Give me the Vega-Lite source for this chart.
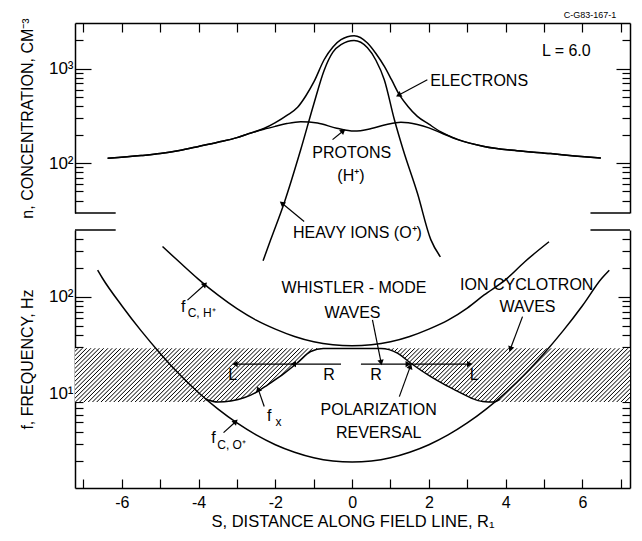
{
"$schema": "https://vega.github.io/schema/vega-lite/v6.json",
"padding": {"left": 19, "top": 10, "right": 5, "bottom": 5},
"bounds": "flush",
"spacing": 17,
"config": {
 "view": {"stroke": null},
 "font": "Liberation Sans",
 "axis": {"domainColor": "black", "domainWidth": 1.5, "tickColor": "black", "tickWidth": 1.2, "labelColor": "black", "titleColor": "black", "labelFont": "Liberation Sans", "titleFont": "Liberation Sans", "labelFontSize": 16, "titleFontSize": 16, "titleFontWeight": "normal", "grid": false, "labelOverlap": false, "labelFlush": false},
 "text": {"font": "Liberation Sans", "color": "black"}
},
"datasets": {
 "top": [
  {"g":"e","s":-6.37,"n":112},{"g":"e","s":-5.5,"n":120},{"g":"e","s":-5,"n":126},{"g":"e","s":-4.5,"n":136},{"g":"e","s":-4,"n":150},{"g":"e","s":-3.5,"n":166},{"g":"e","s":-3,"n":186},{"g":"e","s":-2.7,"n":205},{"g":"e","s":-2.3,"n":232},{"g":"e","s":-2,"n":268},{"g":"e","s":-1.7,"n":320},{"g":"e","s":-1.42,"n":390},{"g":"e","s":-1.2,"n":520},{"g":"e","s":-0.99,"n":733},{"g":"e","s":-0.73,"n":1245},{"g":"e","s":-0.5,"n":1700},{"g":"e","s":-0.29,"n":2030},{"g":"e","s":0.05,"n":2240},{"g":"e","s":0.4,"n":1875},{"g":"e","s":0.62,"n":1450},{"g":"e","s":0.84,"n":1058},{"g":"e","s":1.03,"n":760},{"g":"e","s":1.23,"n":530},{"g":"e","s":1.45,"n":400},{"g":"e","s":1.7,"n":312},{"g":"e","s":2,"n":258},{"g":"e","s":2.3,"n":215},{"g":"e","s":2.75,"n":178},{"g":"e","s":3.44,"n":150},{"g":"e","s":4.3,"n":135},{"g":"e","s":5.17,"n":126},{"g":"e","s":5.8,"n":119},{"g":"e","s":6.48,"n":113},
  {"g":"p","s":-6.37,"n":112},{"g":"p","s":-5.5,"n":120},{"g":"p","s":-5,"n":126},{"g":"p","s":-4.5,"n":136},{"g":"p","s":-4,"n":150},{"g":"p","s":-3.5,"n":166},{"g":"p","s":-3,"n":186},{"g":"p","s":-2.7,"n":204},{"g":"p","s":-2.3,"n":228},{"g":"p","s":-2,"n":245},{"g":"p","s":-1.7,"n":262},{"g":"p","s":-1.34,"n":274},{"g":"p","s":-0.9,"n":265},{"g":"p","s":-0.4,"n":234},{"g":"p","s":0.05,"n":218},{"g":"p","s":0.5,"n":232},{"g":"p","s":0.9,"n":256},{"g":"p","s":1.27,"n":270},{"g":"p","s":1.7,"n":256},{"g":"p","s":2,"n":236},{"g":"p","s":2.3,"n":210},{"g":"p","s":2.75,"n":177},{"g":"p","s":3.44,"n":150},{"g":"p","s":4.3,"n":135},{"g":"p","s":5.17,"n":126},{"g":"p","s":5.8,"n":119},{"g":"p","s":6.48,"n":113},
  {"g":"o","s":-2.32,"n":9.2},{"g":"o","s":-2.12,"n":15.4},{"g":"o","s":-1.77,"n":37.7},{"g":"o","s":-1.34,"n":138},{"g":"o","s":-1.0,"n":420},{"g":"o","s":-0.73,"n":960},{"g":"o","s":-0.5,"n":1500},{"g":"o","s":-0.29,"n":1800},{"g":"o","s":0.05,"n":1990},{"g":"o","s":0.4,"n":1670},{"g":"o","s":0.62,"n":1230},{"g":"o","s":0.84,"n":760},{"g":"o","s":1.1,"n":289},{"g":"o","s":1.33,"n":138},{"g":"o","s":1.7,"n":48},{"g":"o","s":2.05,"n":15.4},{"g":"o","s":2.3,"n":10.1}
 ],
 "bot": [
  {"g":"h","s":-4.94,"f":330},{"g":"h","s":-4.5,"f":228},{"g":"h","s":-4,"f":151},{"g":"h","s":-3.5,"f":104},{"g":"h","s":-3,"f":75},{"g":"h","s":-2.5,"f":57},{"g":"h","s":-2,"f":46},{"g":"h","s":-1.5,"f":38.6},{"g":"h","s":-1,"f":34},{"g":"h","s":-0.5,"f":31.7},{"g":"h","s":0,"f":31},{"g":"h","s":0.5,"f":31.7},{"g":"h","s":1,"f":34},{"g":"h","s":1.5,"f":38.6},{"g":"h","s":2,"f":46},{"g":"h","s":2.5,"f":57},{"g":"h","s":3,"f":76},{"g":"h","s":3.44,"f":104},{"g":"h","s":4,"f":150},{"g":"h","s":4.5,"f":230},{"g":"h","s":5.13,"f":370},
  {"g":"c","s":-6.63,"f":188},{"g":"c","s":-6.5,"f":154},{"g":"c","s":-6,"f":80.5},{"g":"c","s":-5.5,"f":44.4},{"g":"c","s":-5,"f":25.8},{"g":"c","s":-4.5,"f":15.7},{"g":"c","s":-4,"f":10.1},{"g":"c","s":-3.5,"f":6.87},{"g":"c","s":-3,"f":4.91},{"g":"c","s":-2.5,"f":3.69},{"g":"c","s":-2,"f":2.92},{"g":"c","s":-1.5,"f":2.44},{"g":"c","s":-1,"f":2.14},{"g":"c","s":-0.5,"f":1.98},{"g":"c","s":0,"f":1.93},{"g":"c","s":0.5,"f":1.98},{"g":"c","s":1,"f":2.14},{"g":"c","s":1.5,"f":2.44},{"g":"c","s":2,"f":2.92},{"g":"c","s":2.5,"f":3.69},{"g":"c","s":3,"f":4.91},{"g":"c","s":3.5,"f":6.87},{"g":"c","s":4,"f":10.1},{"g":"c","s":4.5,"f":15.7},{"g":"c","s":5,"f":25.8},{"g":"c","s":5.5,"f":44.4},{"g":"c","s":6,"f":80.5},{"g":"c","s":6.5,"f":154},{"g":"c","s":6.7,"f":188},
  {"g":"x","s":-3.8,"f":8.6},{"g":"x","s":-3.5,"f":8.1},{"g":"x","s":-3.16,"f":8.3},{"g":"x","s":-2.8,"f":9.0},{"g":"x","s":-2.5,"f":10.2},{"g":"x","s":-2.2,"f":12.2},{"g":"x","s":-1.77,"f":16},{"g":"x","s":-1.42,"f":20.7},{"g":"x","s":-1.08,"f":27},{"g":"x","s":-0.75,"f":29},{"g":"x","s":0,"f":29},{"g":"x","s":0.75,"f":29},{"g":"x","s":1.18,"f":26},{"g":"x","s":1.53,"f":20.4},{"g":"x","s":2.05,"f":14.8},{"g":"x","s":2.4,"f":12.3},{"g":"x","s":2.74,"f":10.5},{"g":"x","s":3.1,"f":8.9},{"g":"x","s":3.4,"f":8.2},{"g":"x","s":3.7,"f":8.1},{"g":"x","s":3.85,"f":8.6}
 ]
},
"vconcat": [
 {
  "width": 555, "height": 190,
  "encoding": {
   "x": {"field": "s", "type": "quantitative", "scale": {"domain": [-7.22, 7.24], "nice": false, "zero": false}, "axis": {"orient": "top", "values": [-7,-6,-5,-4,-3,-2,-1,0,1,2,3,4,5,6,7], "labels": false, "tickSize": -9, "title": null}}
  },
  "layer": [
   {
    "data": {"name": "top"},
    "mark": {"type": "line", "color": "black", "strokeWidth": 1.5, "interpolate": "monotone"},
    "encoding": {
     "y": {"field": "n", "type": "quantitative", "scale": {"type": "log", "domain": [29.5, 3055], "nice": false}, "axis": {"orient": "left", "values": [40,50,60,70,80,90,100,200,300,400,500,600,700,800,900,1000,2000], "labelExpr": "datum.value == 100 ? '10²' : datum.value == 1000 ? '10³' : ''", "labelFontSize": 17, "tickSize": {"condition": {"test": "datum.value == 100 || datum.value == 1000", "value": -16}, "value": -8}, "labelPadding": 18, "title": "n, CONCENTRATION, CM⁻³", "titlePadding": 13}},
     "detail": {"field": "g"}
    }
   },
   {
    "data": {"values": [{"s": -7.22, "s2": -6.16, "n": 29.5}, {"s": 6.21, "s2": 7.24, "n": 29.5}]},
    "mark": {"type": "rule", "color": "black", "strokeWidth": 1.5},
    "encoding": {
     "x2": {"field": "s2"},
     "y": {"field": "n", "type": "quantitative", "scale": {"type": "log", "domain": [29.5, 3055], "nice": false}, "axis": {"orient": "right", "values": [40,50,60,70,80,90,100,200,300,400,500,600,700,800,900,1000,2000], "labels": false, "tickSize": {"condition": {"test": "datum.value == 100 || datum.value == 1000", "value": -14}, "value": -8}, "title": null}}
    }
   },
   {
    "data": {"values": [{"s": 1.96, "n": 764, "s2": 1.23, "n2": 530}, {"s": -0.51, "n": 177, "s2": -0.25, "n2": 216}, {"s": -1.25, "n": 24, "s2": -1.81, "n2": 37}]},
    "mark": {"type": "rule", "color": "black", "strokeWidth": 1.2},
    "encoding": {
     "y": {"field": "n", "type": "quantitative", "scale": {"type": "log", "domain": [29.5, 3055], "nice": false}, "axis": null},
     "x2": {"field": "s2"}, "y2": {"field": "n2"}
    }
   },
   {
    "data": {"values": [{"s": 1.23, "n": 530, "a": 242}, {"s": -0.25, "n": 216, "a": 50}, {"s": -1.81, "n": 37, "a": 309}]},
    "mark": {"type": "point", "shape": "triangle", "filled": true, "color": "black", "size": 40, "opacity": 1},
    "encoding": {
     "y": {"field": "n", "type": "quantitative", "scale": {"type": "log", "domain": [29.5, 3055], "nice": false}, "axis": null},
     "angle": {"field": "a", "type": "quantitative", "scale": null}
    }
   },
   {
    "data": {"values": [{"s": 5.58, "n": 1524, "t": "L = 6.0"}, {"s": 3.31, "n": 733, "t": "ELECTRONS"}, {"s": -0.01, "n": 128, "t": "PROTONS"}, {"s": -0.03, "n": 72, "t": "(H⁺)"}, {"s": 0.14, "n": 18.1, "t": "HEAVY IONS (O⁺)"}]},
    "mark": {"type": "text", "fontSize": 16, "baseline": "middle", "align": "center"},
    "encoding": {
     "y": {"field": "n", "type": "quantitative", "scale": {"type": "log", "domain": [29.5, 3055], "nice": false}, "axis": null},
     "text": {"field": "t"}
    }
   },
   {
    "data": {"values": [{"s": 6.2, "n": 3741, "t": "C-G83-167-1"}]},
    "mark": {"type": "text", "fontSize": 9, "baseline": "middle", "align": "center"},
    "encoding": {
     "y": {"field": "n", "type": "quantitative", "scale": {"type": "log", "domain": [29.5, 3055], "nice": false}, "axis": null},
     "text": {"field": "t"}
    }
   }
  ],
  "resolve": {"axis": {"y": "independent"}}
 },
 {
  "width": 555, "height": 258,
  "encoding": {
   "x": {"field": "s", "type": "quantitative", "scale": {"domain": [-7.22, 7.24], "nice": false, "zero": false}, "axis": {"orient": "bottom", "values": [-7,-6,-5,-4,-3,-2,-1,0,1,2,3,4,5,6,7], "labelExpr": "datum.value % 2 == 0 ? '' + datum.value : ''", "tickSize": -9, "labelPadding": 15, "title": "S, DISTANCE ALONG FIELD LINE, R₁", "titleFontSize": 16.5, "titlePadding": 3}}
  },
  "layer": [
   {
    "data": {"values": [{"s": -7.22, "s2": 7.24, "f": 8.1, "f2": 29.2}]},
    "mark": {"type": "rect", "stroke": null, "fill": {"gradient": "linear", "x1": 0, "y1": 0, "x2": 1.0868, "y2": 0.10545, "stops": [
{"offset":0.0035,"color":"#fff"},{"offset":0.0052,"color":"#000"},{"offset":0.0069,"color":"#fff"},
{"offset":0.0105,"color":"#fff"},{"offset":0.0122,"color":"#000"},{"offset":0.0139,"color":"#fff"},
{"offset":0.0175,"color":"#fff"},{"offset":0.0192,"color":"#000"},{"offset":0.0209,"color":"#fff"},
{"offset":0.0245,"color":"#fff"},{"offset":0.0262,"color":"#000"},{"offset":0.0279,"color":"#fff"},
{"offset":0.0315,"color":"#fff"},{"offset":0.0332,"color":"#000"},{"offset":0.0349,"color":"#fff"},
{"offset":0.0385,"color":"#fff"},{"offset":0.0402,"color":"#000"},{"offset":0.0419,"color":"#fff"},
{"offset":0.0455,"color":"#fff"},{"offset":0.0472,"color":"#000"},{"offset":0.0489,"color":"#fff"},
{"offset":0.0525,"color":"#fff"},{"offset":0.0542,"color":"#000"},{"offset":0.0559,"color":"#fff"},
{"offset":0.0595,"color":"#fff"},{"offset":0.0612,"color":"#000"},{"offset":0.0629,"color":"#fff"},
{"offset":0.0665,"color":"#fff"},{"offset":0.0682,"color":"#000"},{"offset":0.0699,"color":"#fff"},
{"offset":0.0735,"color":"#fff"},{"offset":0.0752,"color":"#000"},{"offset":0.0769,"color":"#fff"},
{"offset":0.0805,"color":"#fff"},{"offset":0.0822,"color":"#000"},{"offset":0.0839,"color":"#fff"},
{"offset":0.0875,"color":"#fff"},{"offset":0.0892,"color":"#000"},{"offset":0.0909,"color":"#fff"},
{"offset":0.0945,"color":"#fff"},{"offset":0.0962,"color":"#000"},{"offset":0.0979,"color":"#fff"},
{"offset":0.1015,"color":"#fff"},{"offset":0.1032,"color":"#000"},{"offset":0.1049,"color":"#fff"},
{"offset":0.1085,"color":"#fff"},{"offset":0.1102,"color":"#000"},{"offset":0.1119,"color":"#fff"},
{"offset":0.1155,"color":"#fff"},{"offset":0.1172,"color":"#000"},{"offset":0.1189,"color":"#fff"},
{"offset":0.1225,"color":"#fff"},{"offset":0.1242,"color":"#000"},{"offset":0.1259,"color":"#fff"},
{"offset":0.1295,"color":"#fff"},{"offset":0.1312,"color":"#000"},{"offset":0.1329,"color":"#fff"},
{"offset":0.1365,"color":"#fff"},{"offset":0.1382,"color":"#000"},{"offset":0.1399,"color":"#fff"},
{"offset":0.1435,"color":"#fff"},{"offset":0.1452,"color":"#000"},{"offset":0.1469,"color":"#fff"},
{"offset":0.1505,"color":"#fff"},{"offset":0.1522,"color":"#000"},{"offset":0.1539,"color":"#fff"},
{"offset":0.1575,"color":"#fff"},{"offset":0.1592,"color":"#000"},{"offset":0.1609,"color":"#fff"},
{"offset":0.1645,"color":"#fff"},{"offset":0.1662,"color":"#000"},{"offset":0.1679,"color":"#fff"},
{"offset":0.1715,"color":"#fff"},{"offset":0.1732,"color":"#000"},{"offset":0.1749,"color":"#fff"},
{"offset":0.1785,"color":"#fff"},{"offset":0.1802,"color":"#000"},{"offset":0.1819,"color":"#fff"},
{"offset":0.1855,"color":"#fff"},{"offset":0.1872,"color":"#000"},{"offset":0.1889,"color":"#fff"},
{"offset":0.1925,"color":"#fff"},{"offset":0.1942,"color":"#000"},{"offset":0.1959,"color":"#fff"},
{"offset":0.1995,"color":"#fff"},{"offset":0.2012,"color":"#000"},{"offset":0.2029,"color":"#fff"},
{"offset":0.2065,"color":"#fff"},{"offset":0.2082,"color":"#000"},{"offset":0.2099,"color":"#fff"},
{"offset":0.2135,"color":"#fff"},{"offset":0.2152,"color":"#000"},{"offset":0.2169,"color":"#fff"},
{"offset":0.2205,"color":"#fff"},{"offset":0.2222,"color":"#000"},{"offset":0.2239,"color":"#fff"},
{"offset":0.2275,"color":"#fff"},{"offset":0.2292,"color":"#000"},{"offset":0.2309,"color":"#fff"},
{"offset":0.2345,"color":"#fff"},{"offset":0.2362,"color":"#000"},{"offset":0.2379,"color":"#fff"},
{"offset":0.2415,"color":"#fff"},{"offset":0.2432,"color":"#000"},{"offset":0.2449,"color":"#fff"},
{"offset":0.2485,"color":"#fff"},{"offset":0.2502,"color":"#000"},{"offset":0.2519,"color":"#fff"},
{"offset":0.2555,"color":"#fff"},{"offset":0.2572,"color":"#000"},{"offset":0.2589,"color":"#fff"},
{"offset":0.2625,"color":"#fff"},{"offset":0.2642,"color":"#000"},{"offset":0.2659,"color":"#fff"},
{"offset":0.2695,"color":"#fff"},{"offset":0.2712,"color":"#000"},{"offset":0.2729,"color":"#fff"},
{"offset":0.2765,"color":"#fff"},{"offset":0.2782,"color":"#000"},{"offset":0.2799,"color":"#fff"},
{"offset":0.2835,"color":"#fff"},{"offset":0.2852,"color":"#000"},{"offset":0.2869,"color":"#fff"},
{"offset":0.2905,"color":"#fff"},{"offset":0.2922,"color":"#000"},{"offset":0.2939,"color":"#fff"},
{"offset":0.2975,"color":"#fff"},{"offset":0.2992,"color":"#000"},{"offset":0.3009,"color":"#fff"},
{"offset":0.3045,"color":"#fff"},{"offset":0.3062,"color":"#000"},{"offset":0.3079,"color":"#fff"},
{"offset":0.3115,"color":"#fff"},{"offset":0.3132,"color":"#000"},{"offset":0.3149,"color":"#fff"},
{"offset":0.3185,"color":"#fff"},{"offset":0.3202,"color":"#000"},{"offset":0.3219,"color":"#fff"},
{"offset":0.3255,"color":"#fff"},{"offset":0.3272,"color":"#000"},{"offset":0.3289,"color":"#fff"},
{"offset":0.3325,"color":"#fff"},{"offset":0.3342,"color":"#000"},{"offset":0.3359,"color":"#fff"},
{"offset":0.3395,"color":"#fff"},{"offset":0.3412,"color":"#000"},{"offset":0.3429,"color":"#fff"},
{"offset":0.3465,"color":"#fff"},{"offset":0.3482,"color":"#000"},{"offset":0.3499,"color":"#fff"},
{"offset":0.3535,"color":"#fff"},{"offset":0.3552,"color":"#000"},{"offset":0.3569,"color":"#fff"},
{"offset":0.3605,"color":"#fff"},{"offset":0.3622,"color":"#000"},{"offset":0.3639,"color":"#fff"},
{"offset":0.3675,"color":"#fff"},{"offset":0.3692,"color":"#000"},{"offset":0.3709,"color":"#fff"},
{"offset":0.3745,"color":"#fff"},{"offset":0.3762,"color":"#000"},{"offset":0.3779,"color":"#fff"},
{"offset":0.3815,"color":"#fff"},{"offset":0.3832,"color":"#000"},{"offset":0.3849,"color":"#fff"},
{"offset":0.3885,"color":"#fff"},{"offset":0.3902,"color":"#000"},{"offset":0.3919,"color":"#fff"},
{"offset":0.3955,"color":"#fff"},{"offset":0.3972,"color":"#000"},{"offset":0.3989,"color":"#fff"},
{"offset":0.4025,"color":"#fff"},{"offset":0.4042,"color":"#000"},{"offset":0.4059,"color":"#fff"},
{"offset":0.4095,"color":"#fff"},{"offset":0.4112,"color":"#000"},{"offset":0.4129,"color":"#fff"},
{"offset":0.4165,"color":"#fff"},{"offset":0.4182,"color":"#000"},{"offset":0.4199,"color":"#fff"},
{"offset":0.4235,"color":"#fff"},{"offset":0.4252,"color":"#000"},{"offset":0.4269,"color":"#fff"},
{"offset":0.4305,"color":"#fff"},{"offset":0.4322,"color":"#000"},{"offset":0.4339,"color":"#fff"},
{"offset":0.4375,"color":"#fff"},{"offset":0.4392,"color":"#000"},{"offset":0.4409,"color":"#fff"},
{"offset":0.4445,"color":"#fff"},{"offset":0.4462,"color":"#000"},{"offset":0.4479,"color":"#fff"},
{"offset":0.4515,"color":"#fff"},{"offset":0.4532,"color":"#000"},{"offset":0.4549,"color":"#fff"},
{"offset":0.4585,"color":"#fff"},{"offset":0.4602,"color":"#000"},{"offset":0.4619,"color":"#fff"},
{"offset":0.4655,"color":"#fff"},{"offset":0.4672,"color":"#000"},{"offset":0.4689,"color":"#fff"},
{"offset":0.4725,"color":"#fff"},{"offset":0.4742,"color":"#000"},{"offset":0.4759,"color":"#fff"},
{"offset":0.4795,"color":"#fff"},{"offset":0.4812,"color":"#000"},{"offset":0.4829,"color":"#fff"},
{"offset":0.4865,"color":"#fff"},{"offset":0.4882,"color":"#000"},{"offset":0.4899,"color":"#fff"},
{"offset":0.4935,"color":"#fff"},{"offset":0.4952,"color":"#000"},{"offset":0.4969,"color":"#fff"},
{"offset":0.5005,"color":"#fff"},{"offset":0.5022,"color":"#000"},{"offset":0.5039,"color":"#fff"},
{"offset":0.5075,"color":"#fff"},{"offset":0.5092,"color":"#000"},{"offset":0.5109,"color":"#fff"},
{"offset":0.5145,"color":"#fff"},{"offset":0.5162,"color":"#000"},{"offset":0.5179,"color":"#fff"},
{"offset":0.5215,"color":"#fff"},{"offset":0.5232,"color":"#000"},{"offset":0.5249,"color":"#fff"},
{"offset":0.5285,"color":"#fff"},{"offset":0.5302,"color":"#000"},{"offset":0.5319,"color":"#fff"},
{"offset":0.5355,"color":"#fff"},{"offset":0.5372,"color":"#000"},{"offset":0.5389,"color":"#fff"},
{"offset":0.5425,"color":"#fff"},{"offset":0.5442,"color":"#000"},{"offset":0.5459,"color":"#fff"},
{"offset":0.5495,"color":"#fff"},{"offset":0.5512,"color":"#000"},{"offset":0.5529,"color":"#fff"},
{"offset":0.5565,"color":"#fff"},{"offset":0.5582,"color":"#000"},{"offset":0.5599,"color":"#fff"},
{"offset":0.5635,"color":"#fff"},{"offset":0.5652,"color":"#000"},{"offset":0.5669,"color":"#fff"},
{"offset":0.5705,"color":"#fff"},{"offset":0.5722,"color":"#000"},{"offset":0.5739,"color":"#fff"},
{"offset":0.5775,"color":"#fff"},{"offset":0.5792,"color":"#000"},{"offset":0.5809,"color":"#fff"},
{"offset":0.5845,"color":"#fff"},{"offset":0.5862,"color":"#000"},{"offset":0.5879,"color":"#fff"},
{"offset":0.5915,"color":"#fff"},{"offset":0.5932,"color":"#000"},{"offset":0.5949,"color":"#fff"},
{"offset":0.5985,"color":"#fff"},{"offset":0.6002,"color":"#000"},{"offset":0.6019,"color":"#fff"},
{"offset":0.6055,"color":"#fff"},{"offset":0.6072,"color":"#000"},{"offset":0.6089,"color":"#fff"},
{"offset":0.6125,"color":"#fff"},{"offset":0.6142,"color":"#000"},{"offset":0.6159,"color":"#fff"},
{"offset":0.6195,"color":"#fff"},{"offset":0.6212,"color":"#000"},{"offset":0.6229,"color":"#fff"},
{"offset":0.6265,"color":"#fff"},{"offset":0.6282,"color":"#000"},{"offset":0.6299,"color":"#fff"},
{"offset":0.6335,"color":"#fff"},{"offset":0.6352,"color":"#000"},{"offset":0.6369,"color":"#fff"},
{"offset":0.6405,"color":"#fff"},{"offset":0.6422,"color":"#000"},{"offset":0.6439,"color":"#fff"},
{"offset":0.6475,"color":"#fff"},{"offset":0.6492,"color":"#000"},{"offset":0.6509,"color":"#fff"},
{"offset":0.6545,"color":"#fff"},{"offset":0.6562,"color":"#000"},{"offset":0.6579,"color":"#fff"},
{"offset":0.6615,"color":"#fff"},{"offset":0.6632,"color":"#000"},{"offset":0.6649,"color":"#fff"},
{"offset":0.6685,"color":"#fff"},{"offset":0.6702,"color":"#000"},{"offset":0.6719,"color":"#fff"},
{"offset":0.6755,"color":"#fff"},{"offset":0.6772,"color":"#000"},{"offset":0.6789,"color":"#fff"},
{"offset":0.6825,"color":"#fff"},{"offset":0.6842,"color":"#000"},{"offset":0.6859,"color":"#fff"},
{"offset":0.6895,"color":"#fff"},{"offset":0.6912,"color":"#000"},{"offset":0.6929,"color":"#fff"},
{"offset":0.6965,"color":"#fff"},{"offset":0.6982,"color":"#000"},{"offset":0.6999,"color":"#fff"},
{"offset":0.7035,"color":"#fff"},{"offset":0.7052,"color":"#000"},{"offset":0.7069,"color":"#fff"},
{"offset":0.7105,"color":"#fff"},{"offset":0.7122,"color":"#000"},{"offset":0.7139,"color":"#fff"},
{"offset":0.7175,"color":"#fff"},{"offset":0.7192,"color":"#000"},{"offset":0.7209,"color":"#fff"},
{"offset":0.7245,"color":"#fff"},{"offset":0.7262,"color":"#000"},{"offset":0.7279,"color":"#fff"},
{"offset":0.7315,"color":"#fff"},{"offset":0.7332,"color":"#000"},{"offset":0.7349,"color":"#fff"},
{"offset":0.7385,"color":"#fff"},{"offset":0.7402,"color":"#000"},{"offset":0.7419,"color":"#fff"},
{"offset":0.7455,"color":"#fff"},{"offset":0.7472,"color":"#000"},{"offset":0.7489,"color":"#fff"},
{"offset":0.7525,"color":"#fff"},{"offset":0.7542,"color":"#000"},{"offset":0.7559,"color":"#fff"},
{"offset":0.7595,"color":"#fff"},{"offset":0.7612,"color":"#000"},{"offset":0.7629,"color":"#fff"},
{"offset":0.7665,"color":"#fff"},{"offset":0.7682,"color":"#000"},{"offset":0.7699,"color":"#fff"},
{"offset":0.7735,"color":"#fff"},{"offset":0.7752,"color":"#000"},{"offset":0.7769,"color":"#fff"},
{"offset":0.7805,"color":"#fff"},{"offset":0.7822,"color":"#000"},{"offset":0.7839,"color":"#fff"},
{"offset":0.7875,"color":"#fff"},{"offset":0.7892,"color":"#000"},{"offset":0.7909,"color":"#fff"},
{"offset":0.7945,"color":"#fff"},{"offset":0.7962,"color":"#000"},{"offset":0.7979,"color":"#fff"},
{"offset":0.8015,"color":"#fff"},{"offset":0.8032,"color":"#000"},{"offset":0.8049,"color":"#fff"},
{"offset":0.8085,"color":"#fff"},{"offset":0.8102,"color":"#000"},{"offset":0.8119,"color":"#fff"},
{"offset":0.8155,"color":"#fff"},{"offset":0.8172,"color":"#000"},{"offset":0.8189,"color":"#fff"},
{"offset":0.8225,"color":"#fff"},{"offset":0.8242,"color":"#000"},{"offset":0.8259,"color":"#fff"},
{"offset":0.8295,"color":"#fff"},{"offset":0.8312,"color":"#000"},{"offset":0.8329,"color":"#fff"},
{"offset":0.8365,"color":"#fff"},{"offset":0.8382,"color":"#000"},{"offset":0.8399,"color":"#fff"},
{"offset":0.8435,"color":"#fff"},{"offset":0.8452,"color":"#000"},{"offset":0.8469,"color":"#fff"},
{"offset":0.8505,"color":"#fff"},{"offset":0.8522,"color":"#000"},{"offset":0.8539,"color":"#fff"},
{"offset":0.8575,"color":"#fff"},{"offset":0.8592,"color":"#000"},{"offset":0.8609,"color":"#fff"},
{"offset":0.8645,"color":"#fff"},{"offset":0.8662,"color":"#000"},{"offset":0.8679,"color":"#fff"},
{"offset":0.8715,"color":"#fff"},{"offset":0.8732,"color":"#000"},{"offset":0.8749,"color":"#fff"},
{"offset":0.8785,"color":"#fff"},{"offset":0.8802,"color":"#000"},{"offset":0.8819,"color":"#fff"},
{"offset":0.8855,"color":"#fff"},{"offset":0.8872,"color":"#000"},{"offset":0.8889,"color":"#fff"},
{"offset":0.8925,"color":"#fff"},{"offset":0.8942,"color":"#000"},{"offset":0.8959,"color":"#fff"},
{"offset":0.8995,"color":"#fff"},{"offset":0.9012,"color":"#000"},{"offset":0.9029,"color":"#fff"},
{"offset":0.9065,"color":"#fff"},{"offset":0.9082,"color":"#000"},{"offset":0.9099,"color":"#fff"},
{"offset":0.9135,"color":"#fff"},{"offset":0.9152,"color":"#000"},{"offset":0.9169,"color":"#fff"},
{"offset":0.9205,"color":"#fff"},{"offset":0.9222,"color":"#000"},{"offset":0.9239,"color":"#fff"},
{"offset":0.9275,"color":"#fff"},{"offset":0.9292,"color":"#000"},{"offset":0.9309,"color":"#fff"},
{"offset":0.9345,"color":"#fff"},{"offset":0.9362,"color":"#000"},{"offset":0.9379,"color":"#fff"},
{"offset":0.9415,"color":"#fff"},{"offset":0.9432,"color":"#000"},{"offset":0.9449,"color":"#fff"},
{"offset":0.9485,"color":"#fff"},{"offset":0.9502,"color":"#000"},{"offset":0.9519,"color":"#fff"},
{"offset":0.9555,"color":"#fff"},{"offset":0.9572,"color":"#000"},{"offset":0.9589,"color":"#fff"},
{"offset":0.9625,"color":"#fff"},{"offset":0.9642,"color":"#000"},{"offset":0.9659,"color":"#fff"},
{"offset":0.9695,"color":"#fff"},{"offset":0.9712,"color":"#000"},{"offset":0.9729,"color":"#fff"},
{"offset":0.9765,"color":"#fff"},{"offset":0.9782,"color":"#000"},{"offset":0.9799,"color":"#fff"},
{"offset":0.9835,"color":"#fff"},{"offset":0.9852,"color":"#000"},{"offset":0.9869,"color":"#fff"},
{"offset":0.9905,"color":"#fff"},{"offset":0.9922,"color":"#000"},{"offset":0.9939,"color":"#fff"}
    ]}},
    "encoding": {
     "y": {"field": "f", "type": "quantitative", "scale": {"type": "log", "domain": [1.04, 490], "nice": false}, "axis": null},
     "x2": {"field": "s2"}, "y2": {"field": "f2"}
    }
   },
   {
    "data": {"name": "bot"},
    "transform": [{"filter": "datum.g == 'x'"}],
    "mark": {"type": "area", "color": "white", "interpolate": "monotone"},
    "encoding": {
     "y": {"field": "f", "type": "quantitative", "scale": {"type": "log", "domain": [1.04, 490], "nice": false}, "axis": null},
     "y2": {"datum": 8.1}
    }
   },
   {
    "data": {"name": "bot"},
    "mark": {"type": "line", "color": "black", "strokeWidth": 1.5, "interpolate": "monotone"},
    "encoding": {
     "y": {"field": "f", "type": "quantitative", "scale": {"type": "log", "domain": [1.04, 490], "nice": false}, "axis": {"orient": "left", "values": [2,3,4,5,6,7,8,9,10,20,30,40,50,60,70,80,90,100,200,300,400], "labelExpr": "datum.value == 10 ? '10¹' : datum.value == 100 ? '10²' : ''", "labelFontSize": 17, "tickSize": {"condition": {"test": "datum.value == 10 || datum.value == 100", "value": -16}, "value": -8}, "labelPadding": 18, "title": "f, FREQUENCY, Hz", "titlePadding": 13}},
     "detail": {"field": "g"}
    }
   },
   {
    "data": {"values": [{"s": -7.22, "s2": -6.16, "f": 490}, {"s": 6.21, "s2": 7.24, "f": 490}]},
    "mark": {"type": "rule", "color": "black", "strokeWidth": 1.5},
    "encoding": {
     "x2": {"field": "s2"},
     "y": {"field": "f", "type": "quantitative", "scale": {"type": "log", "domain": [1.04, 490], "nice": false}, "axis": {"orient": "right", "values": [2,3,4,5,6,7,8,9,10,20,30,40,50,60,70,80,90,100,200,300,400], "labels": false, "tickSize": {"condition": {"test": "datum.value == 10 || datum.value == 100", "value": -12}, "value": -8}, "title": null}}
    }
   },
   {
    "data": {"values": [{"s": -4.29, "f": 92, "s2": -3.85, "f2": 132}, {"s": 0.53, "f": 57.3, "s2": 0.75, "f2": 21.2}, {"s": 4.44, "f": 62, "s2": 4.13, "f2": 29.2}, {"s": 1.23, "f": 9.2, "s2": 1.51, "f2": 18.6}, {"s": -2.29, "f": 7.27, "s2": -2.44, "f2": 10.8}, {"s": -3.35, "f": 3.9, "s2": -3.05, "f2": 5.0}, {"s": -0.29, "f": 20, "s2": -3.03, "f2": 20}, {"s": 0.23, "f": 20, "s2": 3.04, "f2": 20}]},
    "mark": {"type": "rule", "color": "black", "strokeWidth": 1.2},
    "encoding": {
     "y": {"field": "f", "type": "quantitative", "scale": {"type": "log", "domain": [1.04, 490], "nice": false}, "axis": null},
     "x2": {"field": "s2"}, "y2": {"field": "f2"}
    }
   },
   {
    "data": {"values": [{"s": -3.85, "f": 132, "a": 48}, {"s": 0.75, "f": 21.2, "a": 169}, {"s": 4.13, "f": 29.2, "a": 200}, {"s": 1.51, "f": 18.6, "a": 20}, {"s": -2.44, "f": 10.8, "a": 341}, {"s": -3.05, "f": 5.0, "a": 45}, {"s": -1.51, "f": 20, "a": 270}, {"s": -3.03, "f": 20, "a": 270}, {"s": 1.44, "f": 20, "a": 90}, {"s": 3.04, "f": 20, "a": 90}]},
    "mark": {"type": "point", "shape": "triangle", "filled": true, "color": "black", "size": 40, "opacity": 1},
    "encoding": {
     "y": {"field": "f", "type": "quantitative", "scale": {"type": "log", "domain": [1.04, 490], "nice": false}, "axis": null},
     "angle": {"field": "a", "type": "quantitative", "scale": null}
    }
   },
   {
    "data": {"values": [{"s": 0.05, "f": 122, "t": "WHISTLER - MODE"}, {"s": 0.01, "f": 68, "t": "WAVES"}, {"s": 4.55, "f": 132, "t": "ION CYCLOTRON"}, {"s": 4.57, "f": 78.7, "t": "WAVES"}, {"s": -3.11, "f": 15.5, "t": "L"}, {"s": -0.6, "f": 15.5, "t": "R"}, {"s": 0.62, "f": 15.5, "t": "R"}, {"s": 3.18, "f": 15.5, "t": "L"}, {"s": 0.69, "f": 6.7, "t": "POLARIZATION"}, {"s": 0.69, "f": 3.9, "t": "REVERSAL"}, {"s": -4.4, "f": 78.7, "t": "f"}, {"s": -2.16, "f": 5.73, "t": "f"}, {"s": -3.61, "f": 3.45, "t": "f"}]},
    "mark": {"type": "text", "fontSize": 16, "baseline": "middle", "align": "center"},
    "encoding": {
     "y": {"field": "f", "type": "quantitative", "scale": {"type": "log", "domain": [1.04, 490], "nice": false}, "axis": null},
     "text": {"field": "t"}
    }
   },
   {
    "data": {"values": [{"s": -3.92, "f": 67.6, "t": "C, H⁺"}, {"s": -1.92, "f": 5.08, "t": "x"}, {"s": -3.14, "f": 2.92, "t": "C, O⁺"}]},
    "mark": {"type": "text", "fontSize": 12, "baseline": "middle", "align": "center"},
    "encoding": {
     "y": {"field": "f", "type": "quantitative", "scale": {"type": "log", "domain": [1.04, 490], "nice": false}, "axis": null},
     "text": {"field": "t"}
    }
   }
  ],
  "resolve": {"axis": {"y": "independent"}}
 }
]
}
